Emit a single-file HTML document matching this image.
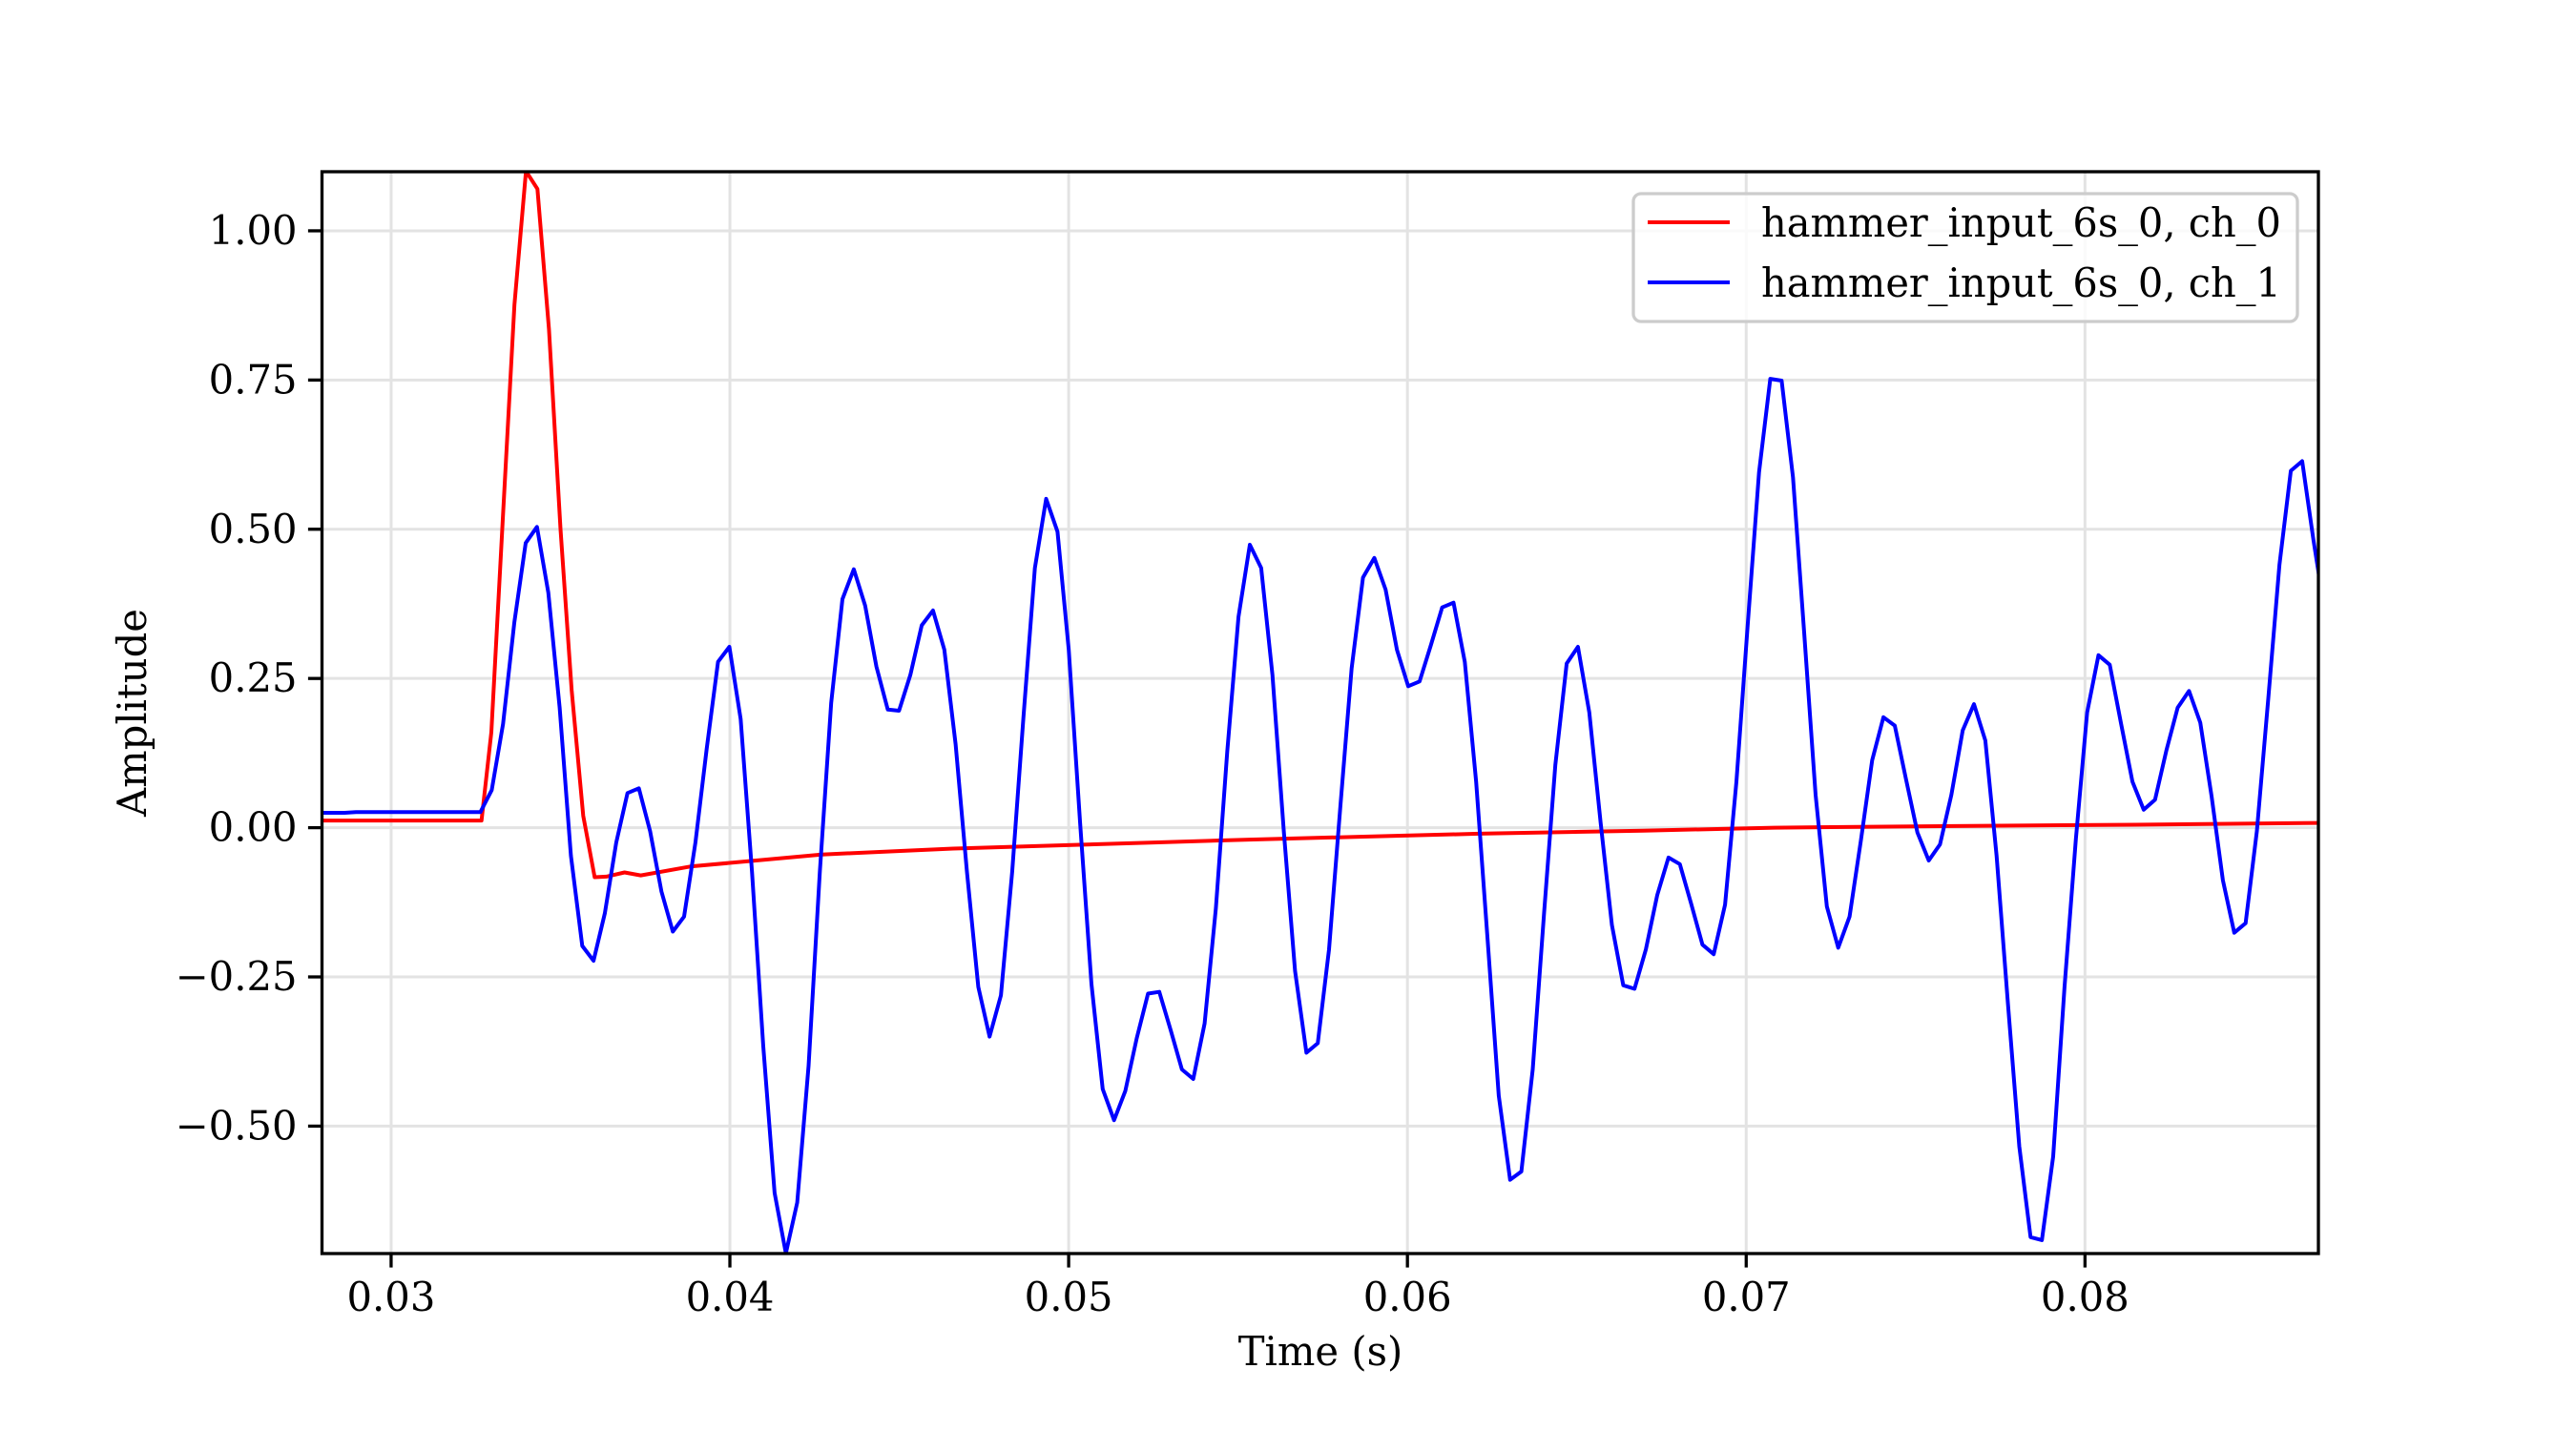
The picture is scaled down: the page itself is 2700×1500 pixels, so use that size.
<!DOCTYPE html>
<html><head><meta charset="utf-8"><style>
html,body{margin:0;padding:0;background:#fff;}
svg{display:block;}
text{font-family:"DejaVu Serif","Liberation Serif",serif;fill:#000;}
</style></head>
<body>
<svg id="chart" width="2700" height="1500" viewBox="0 0 2700 1500" xmlns="http://www.w3.org/2000/svg">
<rect width="2700" height="1500" fill="#fff"/>
<defs><clipPath id="plotclip"><rect x="337.5" y="180" width="2092.5" height="1134"/></clipPath></defs>
<g id="grid"></g>
<g id="series" clip-path="url(#plotclip)"></g>
<rect x="337.5" y="180" width="2092.5" height="1134" fill="none" stroke="#000" stroke-width="3.3"/>
<g id="ticks"></g>
<text x="1384" y="1431" font-size="41.7" text-anchor="middle">Time (s)</text>
<text x="0" y="0" font-size="41.7" text-anchor="middle" transform="translate(153,747) rotate(-90)">Amplitude</text>
<g>
<rect x="1712" y="203" width="696" height="134" rx="8" fill="#fff" fill-opacity="0.8" stroke="#ccc" stroke-width="3.3"/>
<line x1="1727" y1="233" x2="1813" y2="233" stroke="#ff0000" stroke-width="4"/>
<text x="1846" y="248" font-size="41.7" textLength="545" lengthAdjust="spacingAndGlyphs">hammer_input_6s_0, ch_0</text>
<line x1="1727" y1="296" x2="1813" y2="296" stroke="#0000ff" stroke-width="4"/>
<text x="1846" y="311" font-size="41.7" textLength="545" lengthAdjust="spacingAndGlyphs">hammer_input_6s_0, ch_1</text>
</g>
</svg>
<script>
const xTicks = [0.03, 0.04, 0.05, 0.06, 0.07, 0.08];
const xTickLabels = ["0.03", "0.04", "0.05", "0.06", "0.07", "0.08"];
const yTicks = [1.0, 0.75, 0.5, 0.25, 0.0, -0.25, -0.5];
const yTickLabels = ["1.00", "0.75", "0.50", "0.25", "0.00", "\u22120.25", "\u22120.50"];
const blueStart = 0.02796;
const blueStep = 0.000334;
const blueValues = [0.025,0.025,0.025,0.026,0.026,0.026,0.026,0.026,0.026,0.026,0.026,0.026,0.026,0.026,0.026,
0.063,0.174,0.344,0.477,0.504,0.394,0.201,-0.047,-0.198,-0.223,-0.143,-0.025,0.058,0.066,-0.006,-0.107,-0.174,-0.149,-0.025,0.132,0.278,0.303,0.182,-0.074,-0.366,-0.612,-0.713,-0.628,-0.399,-0.074,0.209,0.383,0.433,0.372,0.270,0.198,0.196,0.256,0.339,0.364,0.298,0.140,-0.074,-0.267,-0.350,-0.281,-0.074,0.187,0.435,0.551,0.496,0.298,0.008,-0.262,-0.438,-0.490,-0.441,-0.353,-0.278,-0.275,-0.339,-0.405,-0.421,-0.328,-0.135,0.127,0.353,0.474,0.435,0.256,-0.006,-0.240,-0.377,-0.361,-0.204,0.036,0.267,0.419,0.452,0.399,0.298,0.237,0.245,0.306,0.369,0.377,0.278,0.077,-0.185,-0.449,-0.590,-0.576,-0.405,-0.143,0.105,0.275,0.303,0.193,0.008,-0.163,-0.264,-0.270,-0.204,-0.113,-0.050,-0.061,-0.127,-0.196,-0.212,-0.129,0.077,0.339,0.595,0.752,0.749,0.587,0.325,0.055,-0.132,-0.201,-0.149,-0.022,0.113,0.185,0.171,0.080,-0.008,-0.055,-0.028,0.055,0.163,0.207,0.146,-0.047,-0.295,-0.534,-0.686,-0.691,-0.551,-0.267,-0.019,0.193,0.289,0.273,0.174,0.077,0.030,0.047,0.129,0.201,0.229,0.176,0.052,-0.088,-0.176,-0.160,-0.006,0.215,0.441,0.598,0.614,0.482,0.361];
const redTimes = [0.02796,0.03267,0.03296,0.0333,0.03364,0.03398,0.03432,0.03466,0.035,0.03533,0.03567,0.03601,0.03635,0.03689,0.03737,0.03883,0.04077,0.04271,0.04465,0.04659,0.0495,0.05241,0.05532,0.05871,0.0621,0.06695,0.07083,0.07665,0.0815,0.08689];
const redValues = [0.012,0.012,0.16,0.52,0.876,1.10,1.07,0.835,0.50,0.23,0.02,-0.083,-0.082,-0.075,-0.08,-0.065,-0.055,-0.045,-0.04,-0.035,-0.03,-0.025,-0.02,-0.015,-0.01,-0.005,0.0,0.003,0.005,0.008];

const X0=337.5, X1=2430, Y0=180, Y1=1314;
const xMin=0.02796, xMax=0.08689, yMin=-0.7135, yMax=1.099;
function sx(v){return X0+(v-xMin)/(xMax-xMin)*(X1-X0);}
function sy(v){return Y1-(v-yMin)/(yMax-yMin)*(Y1-Y0);}
const NS="http://www.w3.org/2000/svg";
const grid=document.getElementById('grid'), ticks=document.getElementById('ticks'), series=document.getElementById('series');
function mk(tag,attrs,parent){const e=document.createElementNS(NS,tag);for(const k in attrs)e.setAttribute(k,attrs[k]);parent.appendChild(e);return e;}
xTicks.forEach((t,i)=>{
  const x=sx(t);
  const g=mk('line',{x1:x,y1:Y0,x2:x,y2:Y1,stroke:'#e3e3e3','stroke-width':3},grid);
  
  
  const tk=mk('line',{x1:x,y1:Y1,x2:x,y2:Y1+14.6,stroke:'#000','stroke-width':3.3},ticks);
  
  
  const lb=mk('text',{x:x,y:Y1+60,'font-size':41.7,'text-anchor':'middle'},ticks);
  lb.textContent=xTickLabels[i];
  
  
});
yTicks.forEach((t,i)=>{
  const y=sy(t);
  const g=mk('line',{x1:X0,y1:y,x2:X1,y2:y,stroke:'#e3e3e3','stroke-width':3},grid);
  
  
  const tk=mk('line',{x1:X0-14.6,y1:y,x2:X0,y2:y,stroke:'#000','stroke-width':3.3},ticks);
  
  
  const lb=mk('text',{x:X0-26,y:y+14,'font-size':41.7,'text-anchor':'end'},ticks);
  lb.textContent=yTickLabels[i];
  
  
});
const redPts=redTimes.map((t,i)=>sx(t).toFixed(1)+','+sy(redValues[i]).toFixed(1)).join(' ');
const red=mk('polyline',{points:redPts,fill:'none',stroke:'#ff0000','stroke-width':4,'stroke-linejoin':'round'},series);


const bluePts=blueValues.map((v,i)=>sx(blueStart+i*blueStep).toFixed(1)+','+sy(v).toFixed(1)).join(' ');
const blue=mk('polyline',{points:bluePts,fill:'none',stroke:'#0000ff','stroke-width':4,'stroke-linejoin':'round'},series);


</script>
</body></html>
